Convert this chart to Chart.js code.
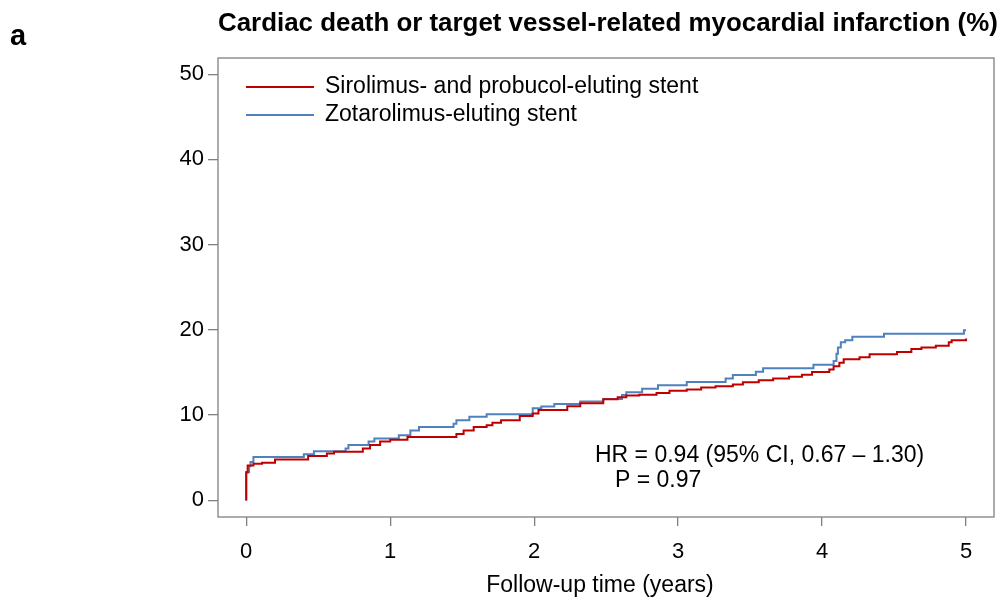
<!DOCTYPE html>
<html>
<head>
<meta charset="utf-8">
<script src="https://cdn.jsdelivr.net/npm/chart.js@4/dist/chart.umd.min.js"></script>
<style>
  html, body { margin: 0; padding: 0; background: #fff; }
  #wrap { width: 1004px; height: 602px; position: relative; }
</style>
</head>
<body>
<div id="wrap"><canvas id="km"></canvas></div>
<script>
// cumulative incidence (%), step points (years, %)
const siroTimes = [0, 0, 0.01, 0.05, 0.11, 0.20, 0.43, 0.56, 0.61, 0.81, 0.86, 0.93, 1.00, 1.12,
    1.46, 1.51, 1.58, 1.67, 1.71, 1.77, 1.90, 1.99, 2.03, 2.23, 2.32, 2.48, 2.58, 2.64, 2.73,
    2.85, 2.94, 3.06, 3.16, 3.26, 3.38, 3.45, 3.56, 3.66, 3.77, 3.86, 3.93, 4.05, 4.08, 4.12,
    4.15, 4.26, 4.33, 4.52, 4.62, 4.69, 4.79, 4.88, 4.90, 5.00, 5.00];
const siroRates = [0, 3.3, 4.1, 4.3, 4.4, 4.8, 5.2, 5.5, 5.7, 6.1, 6.5, 6.9, 7.1, 7.45,
    7.8, 8.2, 8.6, 8.8, 9.1, 9.4, 9.9, 10.2, 10.6, 11.05, 11.4, 11.85, 12.1, 12.3, 12.4,
    12.6, 12.85, 13.0, 13.25, 13.4, 13.6, 13.85, 14.1, 14.3, 14.5, 14.75, 15.05, 15.35, 15.75, 16.15,
    16.55, 16.8, 17.15, 17.4, 17.75, 17.95, 18.15, 18.55, 18.8, 18.8, 19.0];

const zotaTimes = [0, 0, 0.02, 0.03, 0.05, 0.40, 0.47, 0.69, 0.71, 0.85, 0.89, 1.06, 1.14, 1.20,
    1.44, 1.46, 1.55, 1.67, 1.99, 2.05, 2.14, 2.32, 2.48, 2.61, 2.64, 2.75, 2.86, 3.06, 3.33,
    3.38, 3.54, 3.59, 3.94, 4.08, 4.10, 4.11, 4.13, 4.16, 4.21, 4.43, 4.985, 5.00];
const zotaRates = [0, 3.3, 4.0, 4.5, 5.1, 5.4, 5.75, 6.1, 6.5, 6.9, 7.25, 7.65, 8.2, 8.6,
    9.0, 9.4, 9.8, 10.1, 10.8, 11.0, 11.3, 11.6, 11.9, 12.35, 12.7, 13.1, 13.5, 13.9, 14.3,
    14.7, 15.1, 15.5, 15.9, 16.35, 17.2, 17.95, 18.55, 18.8, 19.2, 19.55, 19.95, 19.95];

const seriesNames = ['Sirolimus- and probucol-eluting stent', 'Zotarolimus-eluting stent'];
const seriesColors = ['#c00000', '#4f81bd'];

const xTicks = [0, 1, 2, 3, 4, 5];
const yTicks = [0, 10, 20, 30, 40, 50];

const chartTitle = 'Cardiac death or target vessel-related myocardial infarction (%)';
const panelLabel = 'a';
const xTitle = 'Follow-up time (years)';
const statLines = ['HR = 0.94 (95% CI, 0.67 \u2013 1.30)', 'P = 0.97'];

const FONT = '"Liberation Sans", Arial, Helvetica, sans-serif';

function toPoints(times, rates) {
    return times.map((t, i) => ({ x: t, y: rates[i] }));
}

// frame, legend and text drawn on top of the chart
const decorations = {
    id: 'decorations',
    afterDatasetsDraw(chart) {
        const { ctx, chartArea: a } = chart;
        ctx.save();
        ctx.strokeStyle = '#808080';
        ctx.lineWidth = 1.3;
        ctx.strokeRect(a.left, a.top, a.right - a.left, a.bottom - a.top);
        ctx.restore();
    },
    afterDraw(chart) {
        const ctx = chart.ctx;
        ctx.save();
        ctx.fillStyle = '#000';
        ctx.textBaseline = 'alphabetic';

        ctx.font = 'bold 29px ' + FONT;
        ctx.textAlign = 'left';
        ctx.fillText(panelLabel, 10, 45);

        ctx.font = 'bold 25.9px ' + FONT;
        ctx.fillText(chartTitle, 218, 31);

        // legend
        ctx.font = '23px ' + FONT;
        chart.data.datasets.forEach((ds, i) => {
            const y = 87 + i * 28;
            ctx.strokeStyle = ds.borderColor;
            ctx.lineWidth = 2;
            ctx.beginPath();
            ctx.moveTo(246, y);
            ctx.lineTo(314, y);
            ctx.stroke();
            ctx.fillText(ds.label, 325, y + 6);
        });

        // statistics
        ctx.fillText(statLines[0], 595, 462);
        ctx.fillText(statLines[1], 615, 487);

        // x axis title
        ctx.textAlign = 'center';
        ctx.fillText(xTitle, 600, 592);
        ctx.restore();
    }
};

new Chart(document.getElementById('km'), {
    type: 'line',
    data: {
        datasets: [
            {
                label: seriesNames[0],
                data: toPoints(siroTimes, siroRates),
                borderColor: seriesColors[0],
                borderWidth: 2,
                stepped: 'before',
                pointRadius: 0,
                fill: false
            },
            {
                label: seriesNames[1],
                data: toPoints(zotaTimes, zotaRates),
                borderColor: seriesColors[1],
                borderWidth: 2,
                stepped: 'before',
                pointRadius: 0,
                fill: false
            }
        ]
    },
    options: {
        responsive: true,
        maintainAspectRatio: false,
        animation: false,
        layout: { padding: { top: 58, right: 10, left: 0, bottom: 0 } },
        plugins: {
            legend: { display: false },
            title: { display: false },
            tooltip: { enabled: false }
        },
        scales: {
            x: {
                type: 'linear',
                min: -0.196,
                max: 5.194,
                afterBuildTicks: scale => { scale.ticks = xTicks.map(v => ({ value: v })); },
                afterFit: scale => { scale.height = 85; },
                border: { display: false },
                grid: { drawOnChartArea: false, drawTicks: true, tickLength: 9, color: '#808080', lineWidth: 1.3 },
                ticks: { color: '#000', padding: 13, font: { family: FONT, size: 22 }, maxRotation: 0 }
            },
            y: {
                type: 'linear',
                min: -1.95,
                max: 51.9,
                afterBuildTicks: scale => { scale.ticks = yTicks.map(v => ({ value: v })); },
                afterFit: scale => { scale.width = 218; },
                border: { display: false },
                grid: { drawOnChartArea: false, drawTicks: true, tickLength: 10, color: '#808080', lineWidth: 1.3 },
                ticks: { color: '#000', padding: 4, font: { family: FONT, size: 22 } }
            }
        }
    },
    plugins: [decorations]
});
</script>
</body>
</html>
